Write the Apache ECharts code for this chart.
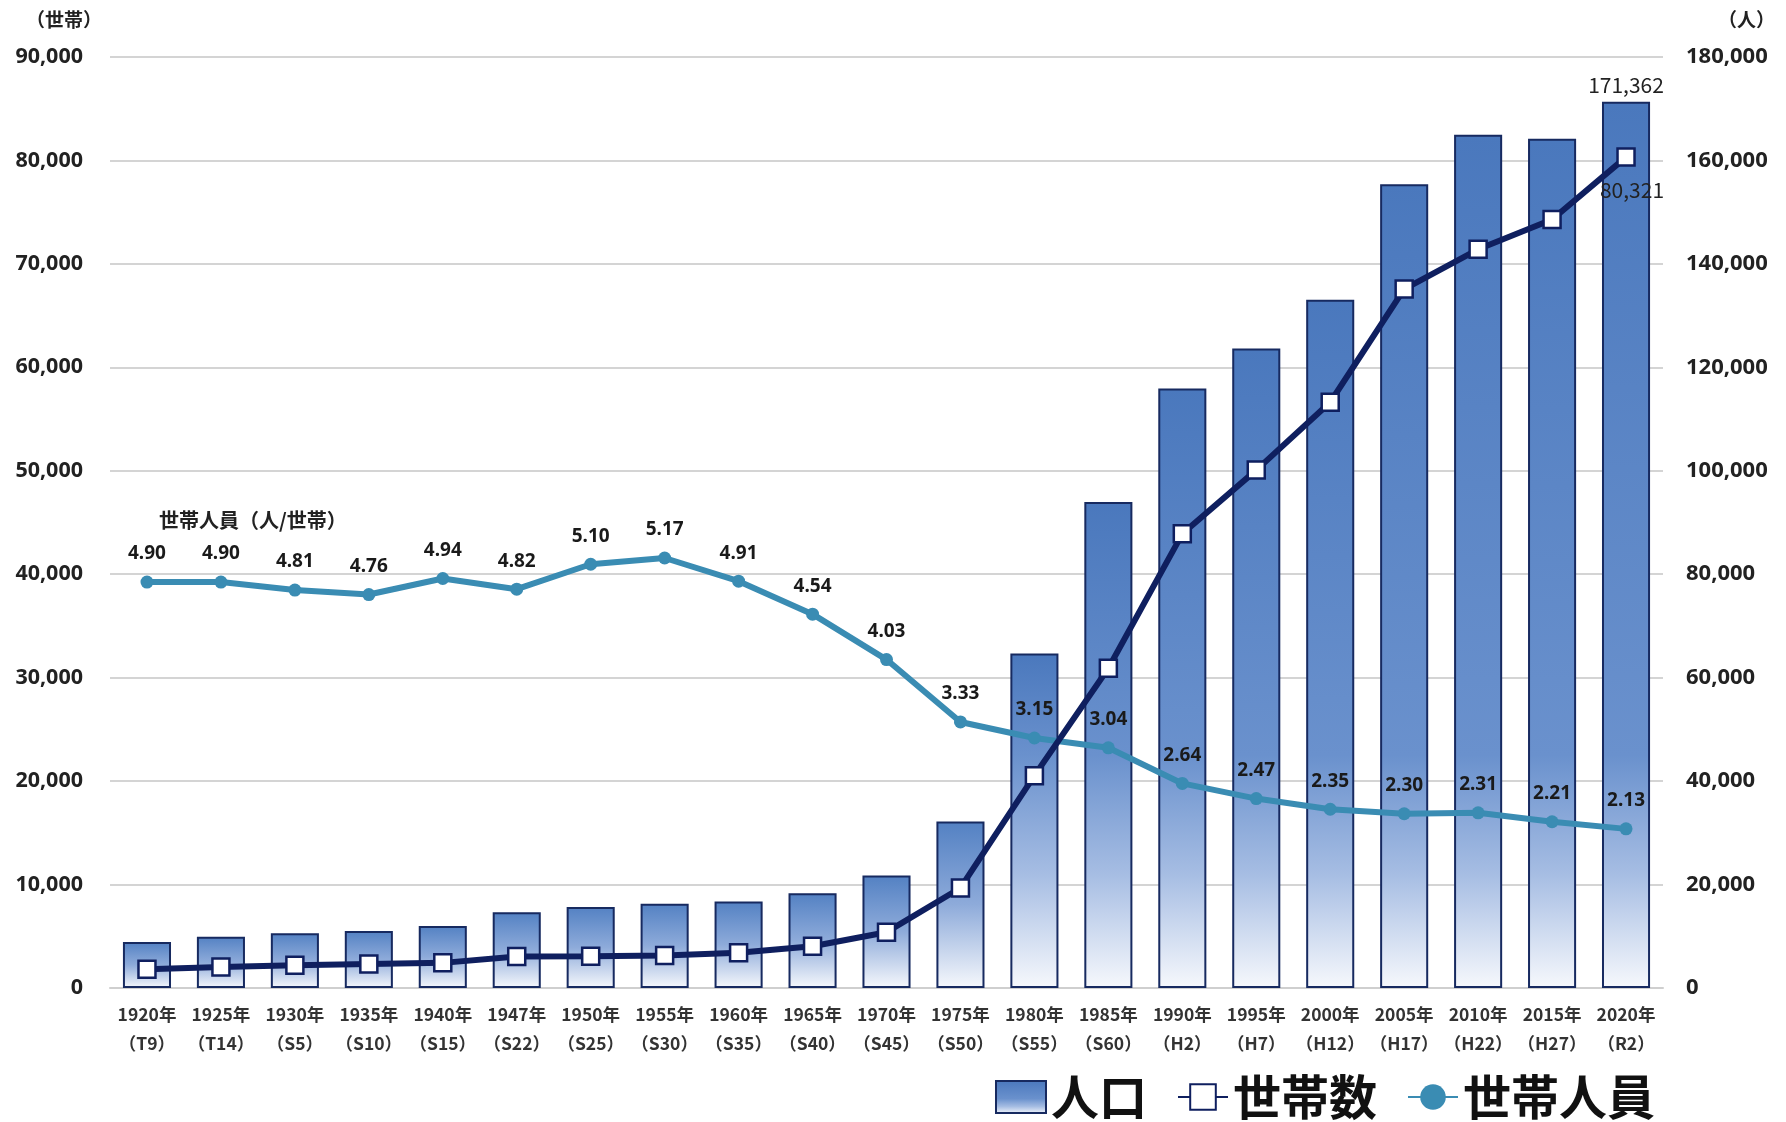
<!DOCTYPE html>
<html><head><meta charset="utf-8">
<script src="https://cdn.jsdelivr.net/npm/echarts@6/dist/echarts.min.js"></script>
<style>html,body{margin:0;padding:0;background:#fff}#c{width:1786px;height:1122px}</style>
</head><body><div id="c"></div>
<script>
const years = ['1920年','1925年','1930年','1935年','1940年','1947年','1950年','1955年','1960年','1965年','1970年','1975年','1980年','1985年','1990年','1995年','2000年','2005年','2010年','2015年','2020年'];
const eras = ['（T9）','（T14）','（S5）','（S10）','（S15）','（S22）','（S25）','（S30）','（S35）','（S40）','（S45）','（S50）','（S55）','（S60）','（H2）','（H7）','（H12）','（H17）','（H22）','（H27）','（R2）'];
const population = [8900, 9930, 10590, 11030, 12000, 14650, 15680, 16300, 16710, 18330, 21740, 32200, 64660, 93950, 115910, 123660, 133070, 155410, 164960, 164180, 171362];
const households = [1816, 2027, 2202, 2317, 2429, 3039, 3075, 3153, 3403, 4037, 5395, 9670, 20527, 30905, 43905, 50065, 56626, 67570, 71411, 74290, 80321];
const personsPerHousehold = [4.90, 4.90, 4.81, 4.76, 4.94, 4.82, 5.10, 5.17, 4.91, 4.54, 4.03, 3.33, 3.15, 3.04, 2.64, 2.47, 2.35, 2.30, 2.31, 2.21, 2.13];
const leftAxisTicks = {min: 0, max: 90000, interval: 10000};
const rightAxisTicks = {min: 0, max: 180000, interval: 20000};

const categories = years.map((y, i) => y + '\n' + eras[i]);
const JP = '"Noto Sans CJK JP", "Noto Sans", sans-serif';

function barGradient(v) {
  let stops;
  if (v > 45000) {
    stops = [
      {offset: 0, color: '#4a78bd'},
      {offset: (v - 45000) / v, color: '#6a91cd'},
      {offset: (v - 22000) / v, color: '#a6bde3'},
      {offset: 1, color: '#f6f8fc'}
    ];
  } else {
    stops = [
      {offset: 0, color: '#5381c3'},
      {offset: 0.5, color: '#8eabda'},
      {offset: 1, color: '#f6f8fc'}
    ];
  }
  return new echarts.graphic.LinearGradient(0, 0, 0, 1, stops);
}

const last = population.length - 1;
const barData = population.map((v, i) => {
  const d = {value: v, itemStyle: {color: barGradient(v)}};
  if (i === last) d.label = {show: true, position: 'top', distance: 6, fontSize: 21, color: '#222', fontFamily: JP,
    formatter: p => p.value.toLocaleString('en-US')};
  return d;
});
const hhData = households.map((v, i) => {
  const d = {value: v};
  if (i === last) d.label = {show: true, position: 'bottom', distance: 13, offset: [6, 0], fontSize: 21, color: '#222', fontFamily: JP,
    formatter: p => p.value.toLocaleString('en-US')};
  return d;
});

const chart = echarts.init(document.getElementById('c'));
chart.setOption({
  backgroundColor: '#ffffff',
  animation: false,
  grid: {left: 110, right: 123, top: 57, bottom: 134},
  legend: {
    data: [{name: '人口', icon: 'rect'}, {name: '世帯数'}, {name: '世帯人員'}],
    right: 126, top: 1068,
    itemWidth: 50, itemHeight: 32, itemGap: 30,
    selectedMode: false,
    textStyle: {fontSize: 48, fontWeight: 'bold', fontFamily: JP, color: '#111'}
  },
  xAxis: {
    type: 'category', data: categories,
    axisLine: {lineStyle: {color: '#cfcfcf', width: 2}},
    axisTick: {show: false},
    axisLabel: {fontSize: 17.5, fontWeight: 'bold', color: '#333', fontFamily: JP, lineHeight: 29, margin: 12, interval: 0}
  },
  yAxis: [
    {type: 'value', position: 'left', min: leftAxisTicks.min, max: leftAxisTicks.max, interval: leftAxisTicks.interval,
      axisLine: {show: false}, axisTick: {show: false},
      splitLine: {lineStyle: {color: '#d4d4d4', width: 2}},
      axisLabel: {fontSize: 21.5, fontWeight: 'bold', color: '#222', fontFamily: '"Noto Sans", sans-serif', margin: 27,
        formatter: v => v.toLocaleString('en-US')}},
    {type: 'value', position: 'right', min: rightAxisTicks.min, max: rightAxisTicks.max, interval: rightAxisTicks.interval,
      axisLine: {show: false}, axisTick: {show: false}, splitLine: {show: false},
      axisLabel: {fontSize: 22, fontWeight: 'bold', color: '#222', fontFamily: '"Noto Sans", sans-serif', margin: 23, align: 'left',
        formatter: v => v.toLocaleString('en-US')}},
    {type: 'value', show: false, min: 0.344, max: 10.793, splitLine: {show: false}}
  ],
  graphic: [
    {type: 'text', left: 26, top: 10, style: {text: '（世帯）', font: 'bold 19px "Noto Sans CJK JP"', fill: '#222'}},
    {type: 'text', left: 1718, top: 10, style: {text: '（人）', font: 'bold 19px "Noto Sans CJK JP"', fill: '#222'}},
    {type: 'text', left: 159, top: 510, style: {text: '世帯人員（人/世帯）', font: 'bold 20px "Noto Sans CJK JP"', fill: '#222'}}
  ],
  series: [
    {name: '人口', type: 'bar', yAxisIndex: 1, barCategoryGap: '35%', data: barData, z: 1,
      itemStyle: {color: barGradient(100000), borderColor: '#172a60', borderWidth: 2}},
    {name: '世帯人員', type: 'line', yAxisIndex: 2, data: personsPerHousehold, z: 3,
      symbol: 'circle', symbolSize: 13,
      lineStyle: {color: '#3a8cb3', width: 6},
      itemStyle: {color: '#3a8cb3'},
      label: {show: true, position: 'top', distance: 12, fontSize: 19, fontWeight: 'bold', color: '#1a1a1a', fontFamily: '"Noto Sans", sans-serif',
        formatter: p => p.value.toFixed(2)}},
    {name: '世帯数', type: 'line', yAxisIndex: 0, data: hhData, z: 4,
      symbol: 'rect', symbolSize: 17,
      lineStyle: {color: '#0f1f5f', width: 6},
      itemStyle: {color: '#ffffff', borderColor: '#0f1f5f', borderWidth: 2.5}}
  ]
});
</script></body></html>
